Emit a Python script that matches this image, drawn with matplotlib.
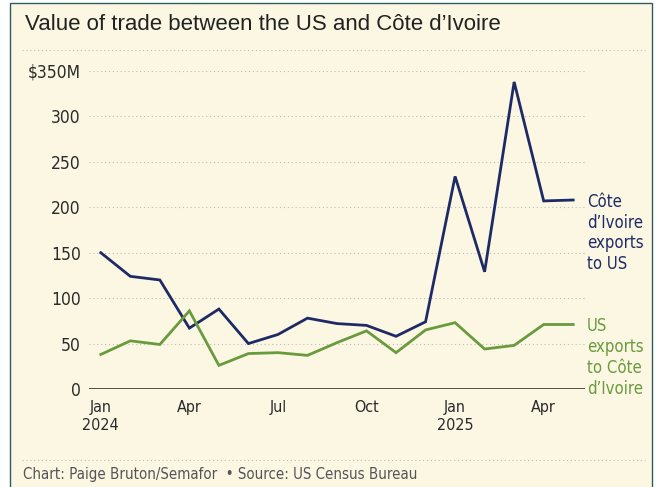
import matplotlib
matplotlib.use('Agg')
import matplotlib.pyplot as plt
from matplotlib.patches import Rectangle
from matplotlib.lines import Line2D

# datos (millones de USD), ene 2024 - may 2025
months = ['2024-01', '2024-02', '2024-03', '2024-04', '2024-05', '2024-06',
          '2024-07', '2024-08', '2024-09', '2024-10', '2024-11', '2024-12',
          '2025-01', '2025-02', '2025-03', '2025-04', '2025-05']
civ_exports = [150, 124, 120, 67, 88, 50, 60, 78, 72, 70, 58, 74, 234, 129, 338, 207, 208]
us_exports = [38, 53, 49, 86, 26, 39, 40, 37, 51, 64, 40, 65, 73, 44, 48, 71, 71]

tick_pos = [0, 3, 6, 9, 12, 15]
tick_labels = ['Jan\n2024', 'Apr', 'Jul', 'Oct', 'Jan\n2025', 'Apr']
y_ticks = [0, 50, 100, 150, 200, 250, 300, 350]
y_labels = ['0', '50', '100', '150', '200', '250', '300', '$350M']

bg = '#FBF7E3'
navy = '#1E2A66'
green = '#6A9A3E'
txt = '#2B2B2B'

plt.rcParams['font.family'] = ['DejaVu Sans']
plt.rcParams['font.stretch'] = 'condensed'

fig = plt.figure(figsize=(6.6, 4.87), dpi=100, facecolor='white')

# marco y fondo
fig.patches.append(Rectangle((10 / 660, -0.1), 642 / 660, 1.1 - 3 / 487,
                             transform=fig.transFigure, facecolor=bg,
                             edgecolor='#2F5C60', linewidth=1.0, zorder=-5))

ax = fig.add_axes([89 / 660, 98 / 487, 496 / 660, 318 / 487])
ax.set_zorder(2)
ax.patch.set_alpha(0)

x = list(range(len(months)))
ax.plot(x, civ_exports, color=navy, linewidth=2, solid_joinstyle='miter', clip_on=False, zorder=3)
ax.plot(x, us_exports, color=green, linewidth=2, solid_joinstyle='miter', clip_on=False, zorder=3)

ax.set_xlim(-0.4, 16.4)
ax.set_ylim(0, 350)
ax.set_yticks(y_ticks)
ax.set_yticklabels(y_labels)
ax.set_xticks(tick_pos)
ax.set_xticklabels(tick_labels)
ax.tick_params(axis='both', length=0, colors=txt)
ax.tick_params(axis='x', pad=8, labelsize=11.5)
ax.tick_params(axis='y', pad=6, labelsize=12.5)

for v in y_ticks[1:]:
    ax.axhline(v, color='#BBBBBB', linewidth=0.8, linestyle=(0, (1, 2.5)), zorder=0)
ax.axhline(0, color='#333333', linewidth=1.2, zorder=1)

for s in ax.spines.values():
    s.set_visible(False)

# etiquetas de las series
ax.text(16.47, 216, 'Côte\nd\u2019Ivoire\nexports\nto US', color=navy, fontsize=12,
        va='top', ha='left', linespacing=1.2, clip_on=False)
ax.text(16.47, 79, 'US\nexports\nto Côte\nd\u2019Ivoire', color=green, fontsize=12,
        va='top', ha='left', linespacing=1.2, clip_on=False)

# titulo, separadores y pie
fig.text(25 / 660, 1 - 24 / 487, 'Value of trade between the US and Côte d\u2019Ivoire',
         fontsize=16, color='#222222', va='center', ha='left', family=['Liberation Sans'],
         fontstretch='normal')
fig.add_artist(Line2D([22 / 660, 645 / 660], [1 - 50 / 487] * 2, color='#BBBBBB',
                      linewidth=0.8, linestyle=(0, (1, 2.5))))
fig.add_artist(Line2D([22 / 660, 645 / 660], [1 - 460 / 487] * 2, color='#BBBBBB',
                      linewidth=0.8, linestyle=(0, (1, 2.5))))
fig.text(23 / 660, 1 - 475 / 487, 'Chart: Paige Bruton/Semafor  \u2022 Source: US Census Bureau',
         fontsize=10.8, color='#555555', va='center', ha='left')

fig.savefig('out.png', dpi=100, facecolor='white')
